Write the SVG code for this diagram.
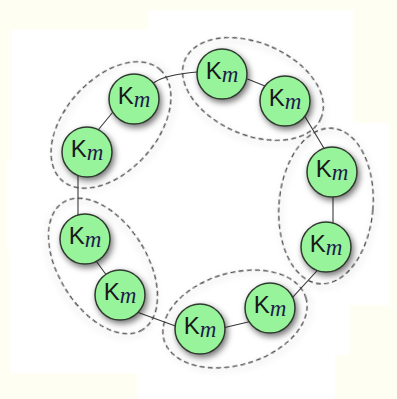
<svg xmlns="http://www.w3.org/2000/svg" width="397" height="399" viewBox="0 0 397 399">
<defs>
<filter id="sh" x="-40%" y="-40%" width="180%" height="180%">
<feDropShadow dx="2" dy="3" stdDeviation="3" flood-color="#000" flood-opacity="0.55"/>
</filter>
<filter id="sh2" x="-20%" y="-20%" width="140%" height="140%">
<feDropShadow dx="2" dy="3" stdDeviation="3" flood-color="#000" flood-opacity="0.25"/>
</filter>
<style>
.bg{fill:#fffef3}
.wh{fill:#ffffff}
.cl{fill:none;stroke:#4a4a4a;stroke-width:1.3;stroke-dasharray:5 3.2;filter:url(#sh2)}
.ln{fill:none;stroke:#3a3a3a;stroke-width:1.1}
.nd circle{fill:#98f49b;stroke:#2e3a2e;stroke-width:1.5;filter:url(#sh)}
.nd text{font-family:"Liberation Sans",Arial,sans-serif;font-size:24px;fill:#1a1a1a;text-anchor:middle}
.nd .m{font-family:"Liberation Serif","Times New Roman",serif;font-style:italic;font-size:23px;fill:#1c1c4c}
</style>
</defs>
<rect class="bg" x="0" y="0" width="397" height="399"/>
<polygon class="wh" points="12,30 148,30 148,10 353,10 353,123 390,123 390,305 350,305 350,355 335,355 335,399 137,399 137,373 10,373 10,250 7,250 7,160 12,160"/>

<g id="clusters">
<ellipse id="cluster1" class="cl" cx="0" cy="0" rx="74" ry="46" transform="translate(111,125) rotate(-48.4)"/>
<ellipse id="cluster2" class="cl" cx="0" cy="0" rx="74" ry="46" transform="translate(253,89) rotate(23.2)"/>
<ellipse id="cluster3" class="cl" cx="0" cy="0" rx="47" ry="78" transform="translate(326,206) rotate(4.6)"/>
<ellipse id="cluster4" class="cl" cx="0" cy="0" rx="74" ry="46" transform="translate(235,319) rotate(-16.7)"/>
<ellipse id="cluster5" class="cl" cx="0" cy="0" rx="75" ry="44" transform="translate(103,266) rotate(58)"/>
</g>

<g id="connectors">
<path class="ln" d="M140,90 L155,82 Q165,75 197,72 L215,71"/>
<line class="ln" x1="94" y1="135" x2="124" y2="98.5"/>
<line class="ln" x1="78" y1="160" x2="78" y2="230"/>
<line class="ln" x1="88" y1="250" x2="110" y2="280"/>
<line class="ln" x1="130" y1="309.6" x2="185" y2="329.6"/>
<line class="ln" x1="210" y1="331" x2="262" y2="318.7"/>
<line class="ln" x1="285" y1="305.7" x2="320" y2="267.5"/>
<line class="ln" x1="333" y1="180" x2="333" y2="235"/>
<line class="ln" x1="295" y1="100" x2="328" y2="155"/>
<line class="ln" x1="230" y1="72" x2="280" y2="92"/>
</g>

<g id="node1" class="nd"><circle cx="134" cy="99" r="25"/><text x="134" y="104">K<tspan class="m" dy="3">m</tspan></text></g>
<g id="node2" class="nd"><circle cx="87" cy="152" r="25"/><text x="87" y="157">K<tspan class="m" dy="3">m</tspan></text></g>
<g id="node3" class="nd"><circle cx="85" cy="239" r="25"/><text x="85" y="244">K<tspan class="m" dy="3">m</tspan></text></g>
<g id="node4" class="nd"><circle cx="120" cy="295" r="25"/><text x="120" y="300">K<tspan class="m" dy="3">m</tspan></text></g>
<g id="node5" class="nd"><circle cx="200" cy="329" r="25"/><text x="200" y="334">K<tspan class="m" dy="3">m</tspan></text></g>
<g id="node6" class="nd"><circle cx="270" cy="308" r="25"/><text x="270" y="313">K<tspan class="m" dy="3">m</tspan></text></g>
<g id="node7" class="nd"><circle cx="326" cy="247" r="25"/><text x="326" y="252">K<tspan class="m" dy="3">m</tspan></text></g>
<g id="node8" class="nd"><circle cx="332" cy="172" r="25"/><text x="332" y="177">K<tspan class="m" dy="3">m</tspan></text></g>
<g id="node9" class="nd"><circle cx="285" cy="101" r="25"/><text x="285" y="106">K<tspan class="m" dy="3">m</tspan></text></g>
<g id="node10" class="nd"><circle cx="222" cy="74" r="25"/><text x="222" y="79">K<tspan class="m" dy="3">m</tspan></text></g>
</svg>
